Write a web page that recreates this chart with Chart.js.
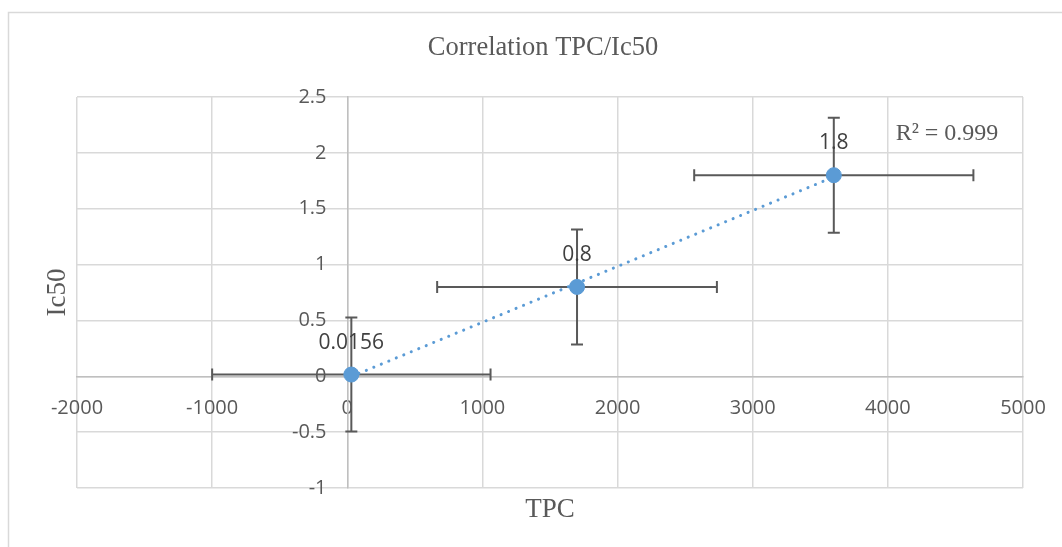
<!DOCTYPE html>
<html>
<head>
<meta charset="utf-8">
<script src="https://cdn.jsdelivr.net/npm/chart.js@4.4.1/dist/chart.umd.min.js"></script>
<style>
  html, body { margin: 0; padding: 0; background: #fff; }
  #wrap { width: 1062px; height: 547px; }
</style>
</head>
<body>
<div id="wrap"><canvas id="grafico" width="1062" height="547"></canvas></div>
<script>
// Datos
const tpc = [30, 1700, 3600];
const ic50 = [0.0156, 0.8, 1.8];
const tpcErr = [1030, 1035, 1033];
const ic50Err = [0.51, 0.515, 0.515];
const etiquetas = ["0.0156", "0.8", "1.8"];
const r2Texto = "R² = 0.999";

const xMin = -2000, xMax = 5000, xPaso = 1000;
const yMin = -1, yMax = 2.5, yPaso = 0.5;

// Línea de tendencia lineal (mínimos cuadrados)
const n = tpc.length;
const mx = tpc.reduce((a, b) => a + b, 0) / n;
const my = ic50.reduce((a, b) => a + b, 0) / n;
let sxy = 0, sxx = 0;
tpc.forEach((x, i) => { sxy += (x - mx) * (ic50[i] - my); sxx += (x - mx) * (x - mx); });
const pendiente = sxy / sxx;
const intercepto = my - pendiente * mx;
const xIni = Math.min(...tpc), xFin = Math.max(...tpc);
const tendencia = [
  { x: xIni, y: intercepto + pendiente * xIni },
  { x: xFin, y: intercepto + pendiente * xFin }
];

const puntos = tpc.map((x, i) => ({ x: x, y: ic50[i] }));

const gris = "#595959";

// Marco, títulos y R²
const decoracion = {
  id: "decoracion",
  beforeDraw(chart) {
    const ctx = chart.ctx;
    ctx.save();
    ctx.fillStyle = "#fff";
    ctx.fillRect(0, 0, chart.width, chart.height);
    ctx.strokeStyle = "#d9d9d9";
    ctx.lineWidth = 1.5;
    ctx.strokeRect(8.5, 12.5, 1200, 700);
    ctx.restore();
  },
  afterDraw(chart) {
    const ctx = chart.ctx;
    const a = chart.chartArea;
    ctx.save();
    ctx.fillStyle = gris;
    ctx.textAlign = "center";
    ctx.textBaseline = "middle";
    ctx.font = "26.5px 'Liberation Serif'";
    ctx.fillText("Correlation TPC/Ic50", 543, 48);
    ctx.font = "27px 'Liberation Serif'";
    ctx.fillText("TPC", (a.left + a.right) / 2, 510);
    ctx.save();
    ctx.translate(58, (a.top + a.bottom) / 2);
    ctx.rotate(-Math.PI / 2);
    ctx.fillText("Ic50", 0, 0);
    ctx.restore();
    ctx.font = "24px 'Liberation Serif'";
    ctx.fillText(r2Texto, 947, 134);
    ctx.restore();
  }
};

// Barras de error
const barrasError = {
  id: "barrasError",
  beforeDatasetsDraw(chart) {
    const ctx = chart.ctx;
    const xs = chart.scales.x, ys = chart.scales.y;
    const cap = 6;
    ctx.save();
    ctx.strokeStyle = gris;
    ctx.lineWidth = 2;
    tpc.forEach((x, i) => {
      const px = xs.getPixelForValue(x), py = ys.getPixelForValue(ic50[i]);
      const x1 = xs.getPixelForValue(x - tpcErr[i]), x2 = xs.getPixelForValue(x + tpcErr[i]);
      const y1 = ys.getPixelForValue(ic50[i] + ic50Err[i]), y2 = ys.getPixelForValue(ic50[i] - ic50Err[i]);
      ctx.beginPath();
      ctx.moveTo(x1, py); ctx.lineTo(x2, py);
      ctx.moveTo(x1, py - cap); ctx.lineTo(x1, py + cap);
      ctx.moveTo(x2, py - cap); ctx.lineTo(x2, py + cap);
      ctx.moveTo(px, y1); ctx.lineTo(px, y2);
      ctx.moveTo(px - cap, y1); ctx.lineTo(px + cap, y1);
      ctx.moveTo(px - cap, y2); ctx.lineTo(px + cap, y2);
      ctx.stroke();
    });
    ctx.restore();
  },
  afterDatasetsDraw(chart) {
    // Etiquetas de datos
    const ctx = chart.ctx;
    const xs = chart.scales.x, ys = chart.scales.y;
    ctx.save();
    ctx.fillStyle = "#404040";
    ctx.font = "21px 'Open Sans'";
    ctx.textAlign = "center";
    ctx.textBaseline = "middle";
    tpc.forEach((x, i) => {
      ctx.fillText(etiquetas[i], xs.getPixelForValue(x), ys.getPixelForValue(ic50[i]) - 32);
    });
    ctx.restore();
  }
};

const ctx = document.getElementById("grafico").getContext("2d");
new Chart(ctx, {
  type: "scatter",
  data: {
    datasets: [
      {
        label: "Ic50",
        data: puntos,
        backgroundColor: "#5b9bd5",
        borderColor: "#5b9bd5",
        pointRadius: 7.5,
        pointHoverRadius: 7.5,
        order: 1
      },
      {
        label: "Tendencia",
        type: "line",
        data: tendencia,
        showLine: true,
        borderColor: "#5b9bd5",
        borderWidth: 3,
        borderDash: [0.1, 8],
        borderCapStyle: "round",
        pointRadius: 0,
        fill: false,
        order: 2
      }
    ]
  },
  options: {
    responsive: false,
    animation: false,
    layout: { padding: { left: 77, right: 39, top: 97, bottom: 59 } },
    plugins: {
      legend: { display: false },
      tooltip: { enabled: false },
      title: { display: false }
    },
    scales: {
      x: {
        type: "linear",
        position: { y: 0 },
        min: xMin, max: xMax,
        grid: { color: "#d9d9d9", lineWidth: 1.5, drawTicks: false },
        border: { color: "#bfbfbf", width: 1.5 },
        ticks: {
          stepSize: xPaso,
          padding: 20,
          color: gris,
          font: { family: "'Open Sans'", size: 20 },
          callback: v => String(v)
        },
        // que las etiquetas de los extremos no recorten el área
        afterFit: s => { s.paddingLeft = 0; s.paddingRight = 0; }
      },
      y: {
        type: "linear",
        position: { x: 0 },
        min: yMin, max: yMax,
        grid: { color: "#d9d9d9", lineWidth: 1.5, drawTicks: false },
        border: { color: "#bfbfbf", width: 1.5 },
        ticks: {
          stepSize: yPaso,
          color: gris,
          font: { family: "'Open Sans'", size: 20 },
          // el eje centrado no aplica padding: se deja hueco con espacios
          callback: v => String(v) + "    "
        }
      }
    }
  },
  plugins: [decoracion, barrasError]
});
</script>
</body>
</html>
